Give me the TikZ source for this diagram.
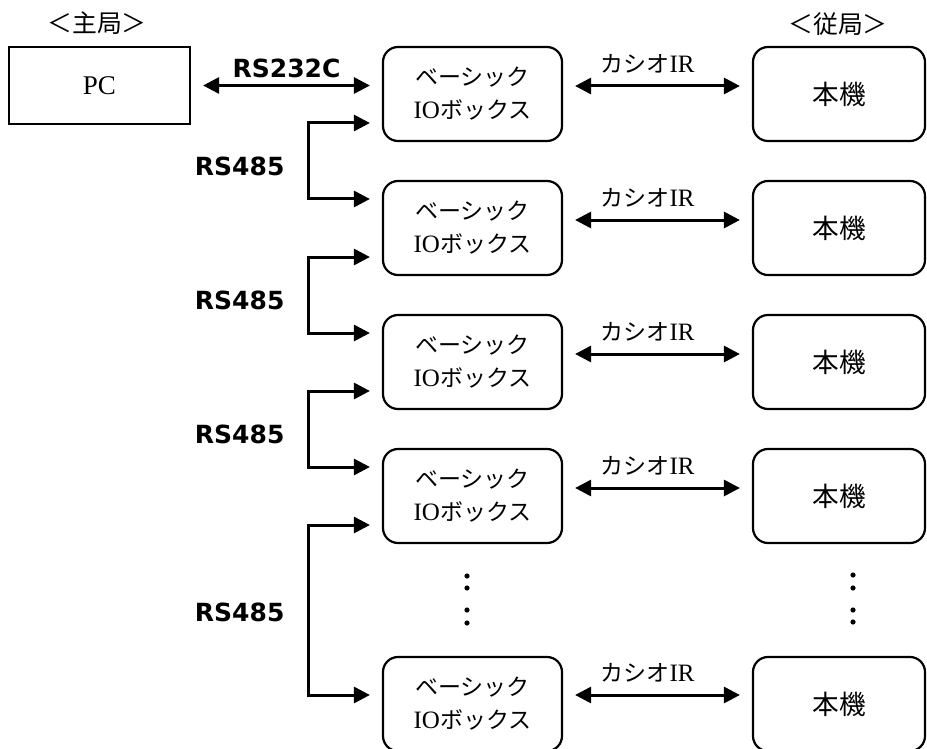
\documentclass[tikz,border=0pt]{standalone}
\usepackage{fontspec}
\setmainfont{Liberation Serif}
\newfontfamily\jp[Scale=0.92]{Noto Sans CJK JP}
\newfontfamily\rsfont{DejaVu Sans}
\usetikzlibrary{arrows.meta, positioning}

\begin{document}
\begin{tikzpicture}[
    x=0.5pt, y=-0.5pt,
    node distance=67pt,
    iobox/.style={rectangle, draw, line width=1.1pt, rounded corners=7.5pt, minimum width=89.5pt, minimum height=47pt, align=center, font=\fontsize{12.5}{16.5}\selectfont},
    unitbox/.style={iobox, minimum width=86pt, font=\jp\fontsize{14.5}{16}\selectfont},
    pcbox/.style={rectangle, draw, line width=1.1pt, minimum width=90.5pt, minimum height=38.5pt, font=\fontsize{13.5}{15}\selectfont},
    arrow/.style={{Triangle[length=8pt,width=8pt]}-{Triangle[length=8pt,width=8pt]}, line width=1.5pt, shorten <=6pt, shorten >=6pt},
    bus/.style={font=\rsfont\bfseries\fontsize{12.5}{15}\selectfont, inner sep=0pt},
    irlabel/.style={font=\fontsize{12.5}{14}\selectfont, inner sep=0pt}
]
\useasboundingbox (0,0) rectangle (927,749);

\node (master) at (97,23) {\jp\fontsize{13.5}{15}\selectfont ＜主局＞};
\node (slave) at (838,24) {\jp\fontsize{13.5}{15}\selectfont ＜従局＞};

\node (pc) [pcbox] at (99.5,85.5) {PC};

\node (io1) [iobox] at (472.5,94) {{\jp ベーシック}\\IO{\jp ボックス}};
\node (io2) [iobox, below of=io1] {{\jp ベーシック}\\IO{\jp ボックス}};
\node (io3) [iobox, below of=io2] {{\jp ベーシック}\\IO{\jp ボックス}};
\node (io4) [iobox, below of=io3] {{\jp ベーシック}\\IO{\jp ボックス}};
\node (io5) [iobox, below of=io4, node distance=104pt] {{\jp ベーシック}\\IO{\jp ボックス}};

\node (hk1) [unitbox, right of=io1, node distance=183.25pt] {本機};
\node (hk2) [unitbox, right of=io2, node distance=183.25pt] {本機};
\node (hk3) [unitbox, right of=io3, node distance=183.25pt] {本機};
\node (hk4) [unitbox, right of=io4, node distance=183.25pt] {本機};
\node (hk5) [unitbox, right of=io5, node distance=183.25pt] {本機};

\draw [arrow] (pc.east) -- (pc.east -| io1.west) node[midway, bus, yshift=8.75pt] {RS232C};

\draw [arrow] ([yshift=4pt]io1.east) -- ([yshift=4pt]hk1.west) node[midway, irlabel, yshift=11pt, xshift=-5pt] {{\jp カシオ}IR};
\draw [arrow] ([yshift=4pt]io2.east) -- ([yshift=4pt]hk2.west) node[midway, irlabel, yshift=11pt, xshift=-5pt] {{\jp カシオ}IR};
\draw [arrow] ([yshift=4pt]io3.east) -- ([yshift=4pt]hk3.west) node[midway, irlabel, yshift=11pt, xshift=-5pt] {{\jp カシオ}IR};
\draw [arrow] ([yshift=4pt]io4.east) -- ([yshift=4pt]hk4.west) node[midway, irlabel, yshift=11pt, xshift=-5pt] {{\jp カシオ}IR};
\draw [arrow] ([yshift=4.5pt]io5.east) -- ([yshift=4.5pt]hk5.west) node[midway, irlabel, yshift=11pt, xshift=-5pt] {{\jp カシオ}IR};

\draw [arrow] ([yshift=-14.5pt]io1.west) -- ++(-36.5pt,0) |- node[pos=0.25, bus, left=11.5pt, yshift=-2.5pt] {RS485} ([yshift=14.5pt]io2.west);
\draw [arrow] ([yshift=-14.5pt]io2.west) -- ++(-36.5pt,0) |- node[pos=0.25, bus, left=11.5pt, yshift=-2.5pt] {RS485} ([yshift=14.5pt]io3.west);
\draw [arrow] ([yshift=-14.5pt]io3.west) -- ++(-36.5pt,0) |- node[pos=0.25, bus, left=11.5pt, yshift=-2.5pt] {RS485} ([yshift=14.5pt]io4.west);
\draw [arrow] ([yshift=-14.5pt]io4.west) -- ++(-36.5pt,0) |- node[pos=0.25, bus, left=11.5pt, yshift=-1pt] {RS485} ([yshift=4.5pt]io5.west);

% dots between the last rows
\fill (467,576) circle [radius=1.3pt];
\fill (467,588) circle [radius=1.3pt];
\fill (467,610) circle [radius=1.3pt];
\fill (467,623) circle [radius=1.3pt];
\fill (853,575) circle [radius=1.3pt];
\fill (853,588) circle [radius=1.3pt];
\fill (853,610) circle [radius=1.3pt];
\fill (853,622) circle [radius=1.3pt];

\end{tikzpicture}
\end{document}
